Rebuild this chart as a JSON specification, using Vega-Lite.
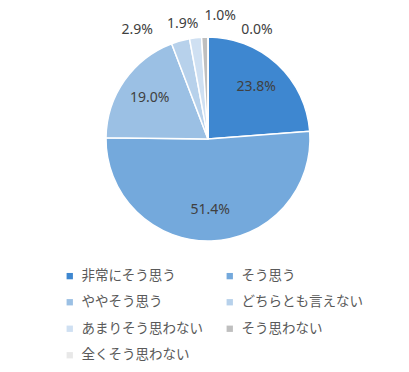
{
  "$schema": "https://vega.github.io/schema/vega-lite/v6.json",
  "width": 416,
  "height": 278,
  "autosize": {"type": "none"},
  "padding": {"left": 0, "top": 0, "right": 0, "bottom": 94},
  "background": "white",
  "config": {"view": {"stroke": null}, "font": "Noto Sans CJK JP"},
  "data": {"values": [
    {"cat": "非常にそう思う", "share": 0.238, "order": 1},
    {"cat": "そう思う", "share": 0.514, "order": 2},
    {"cat": "ややそう思う", "share": 0.190, "order": 3},
    {"cat": "どちらとも言えない", "share": 0.029, "order": 4},
    {"cat": "あまりそう思わない", "share": 0.019, "order": 5},
    {"cat": "そう思わない", "share": 0.010, "order": 6},
    {"cat": "全くそう思わない", "share": 0.000, "order": 7}
  ]},
  "encoding": {
    "theta": {"field": "share", "type": "quantitative", "stack": true},
    "order": {"field": "order", "type": "quantitative", "sort": "ascending"}
  },
  "layer": [
    {
      "mark": {"type": "arc", "outerRadius": 102, "stroke": "white", "strokeWidth": 1.5},
      "encoding": {
        "color": {
          "field": "cat", "type": "nominal",
          "scale": {
            "domain": ["非常にそう思う", "そう思う", "ややそう思う", "どちらとも言えない", "あまりそう思わない", "そう思わない", "全くそう思わない"],
            "range": ["#3E87D0", "#74A9DC", "#9BC0E4", "#B7D1EB", "#CFE0F2", "#BFBFBF", "#E8E8E8"]
          },
          "legend": {
            "orient": "none", "legendX": 63, "legendY": 269, "direction": "horizontal", "columns": 2,
            "title": null, "padding": 0, "columnPadding": 20, "rowPadding": 11.5,
            "symbolType": "square", "symbolSize": 40, "symbolStrokeWidth": 0,
            "labelFontSize": 13.5, "labelColor": "#595959", "labelOffset": 5, "labelLimit": 300
          }
        }
      }
    },
    {
      "mark": {"type": "text", "radius": 71, "fontSize": 14, "color": "#404040", "font": "Noto Sans"},
      "encoding": {"text": {"condition": {"test": "datum.share > 0.05", "field": "share", "type": "quantitative", "format": ".1%"}, "value": ""}}
    },
    {
      "mark": {"type": "text", "radius": 118, "dx": -39, "dy": 5, "fontSize": 14, "color": "#404040", "font": "Noto Sans"},
      "encoding": {"text": {"condition": {"test": "datum.order == 4", "field": "share", "type": "quantitative", "format": ".1%"}, "value": ""}}
    },
    {
      "mark": {"type": "text", "radius": 118, "dx": -11, "dy": 2, "fontSize": 14, "color": "#404040", "font": "Noto Sans"},
      "encoding": {"text": {"condition": {"test": "datum.order == 5", "field": "share", "type": "quantitative", "format": ".1%"}, "value": ""}}
    },
    {
      "mark": {"type": "text", "radius": 118, "dx": 16, "dy": -5, "fontSize": 14, "color": "#404040", "font": "Noto Sans"},
      "encoding": {"text": {"condition": {"test": "datum.order == 6", "field": "share", "type": "quantitative", "format": ".1%"}, "value": ""}}
    },
    {
      "mark": {"type": "text", "radius": 118, "dx": 49, "dy": 9, "fontSize": 14, "color": "#404040", "font": "Noto Sans"},
      "encoding": {"text": {"condition": {"test": "datum.order == 7", "field": "share", "type": "quantitative", "format": ".1%"}, "value": ""}}
    }
  ]
}
